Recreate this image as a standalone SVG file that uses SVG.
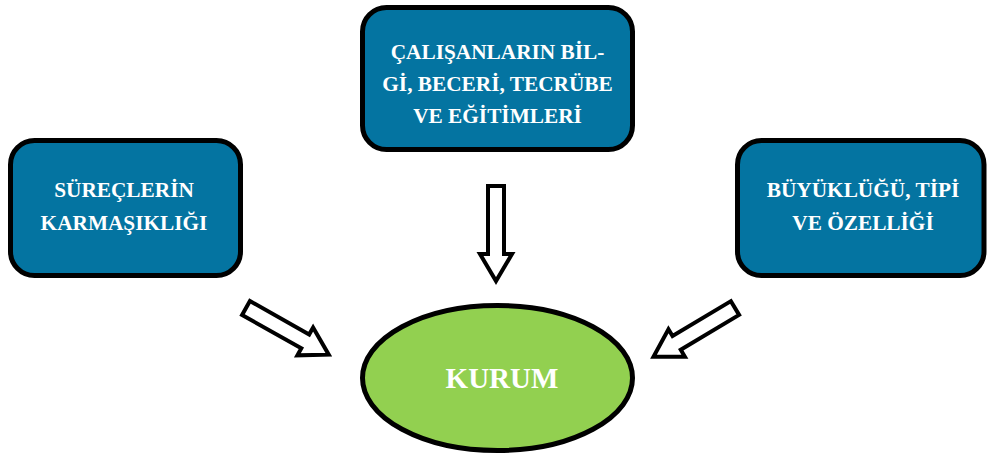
<svg xmlns="http://www.w3.org/2000/svg" width="988" height="458" viewBox="0 0 988 458">
  <style>
    .box { fill: #0474a1; stroke: #000; stroke-width: 5; }
    .core { fill: #92d050; stroke: #000; stroke-width: 5; }
    .label { font-family: "Liberation Serif", "Times New Roman", serif; font-weight: bold; fill: #fff; text-anchor: middle; }
    .small { font-size: 21.3px; }
    .big { font-size: 29px; }
    .arrow { fill: #fff; stroke: #000; stroke-width: 4; stroke-linejoin: miter; }
  </style>
  <defs>
    <!-- hollow block arrow, tail at origin, pointing along +x -->
    <path id="blockArrow" d="M0,-8 L68,-8 L68,-16 L95,0 L68,16 L68,8 L0,8 Z"/>
  </defs>

  <rect width="988" height="458" fill="#fff"/>

  <g id="node-calisanlar">
    <rect class="box" x="362.5" y="7.5" width="270" height="142" rx="24"/>
    <text class="label small" x="497.5" y="59">ÇALIŞANLARIN BİL-</text>
    <text class="label small" x="497.5" y="91">Gİ, BECERİ, TECRÜBE</text>
    <text class="label small" x="497.5" y="123">VE EĞİTİMLERİ</text>
  </g>

  <g id="node-surecler">
    <rect class="box" x="10.5" y="140.5" width="230" height="135" rx="24"/>
    <text class="label small" x="124" y="197">SÜREÇLERİN</text>
    <text class="label small" x="124" y="230">KARMAŞIKLIĞI</text>
  </g>

  <g id="node-buyukluk">
    <rect class="box" x="737.5" y="140.5" width="246.5" height="135" rx="24"/>
    <text class="label small" x="863" y="197">BÜYÜKLÜĞÜ, TİPİ</text>
    <text class="label small" x="863" y="230">VE ÖZELLİĞİ</text>
  </g>

  <g id="node-kurum">
    <ellipse class="core" cx="497.5" cy="378" rx="135" ry="72.5"/>
    <text class="label big" x="502" y="388">KURUM</text>
  </g>

  <g id="connectors">
    <use href="#blockArrow" class="arrow" transform="translate(496,186) rotate(90)"/>
    <use href="#blockArrow" class="arrow" transform="translate(246,308) rotate(29.4)"/>
    <use href="#blockArrow" class="arrow" transform="translate(735,308) rotate(149.1)"/>
  </g>
</svg>
